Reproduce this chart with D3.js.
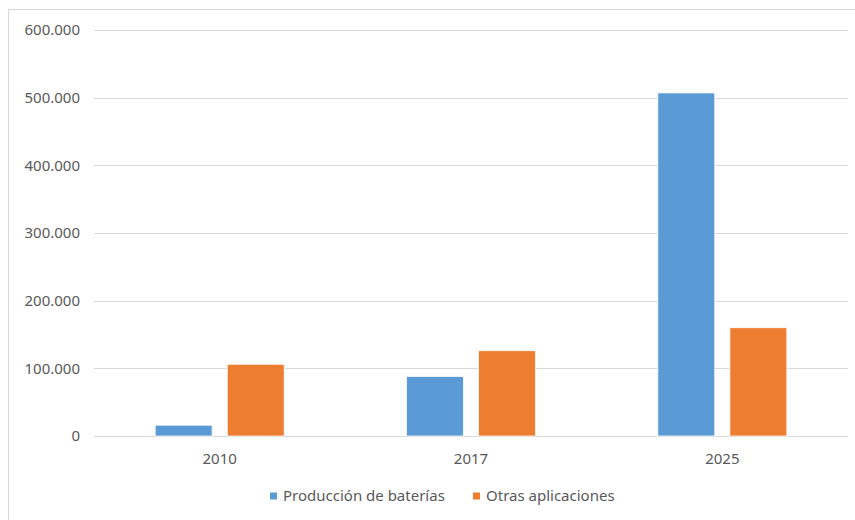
<!DOCTYPE html>
<html>
<head>
<meta charset="utf-8">
<script src="https://cdn.jsdelivr.net/npm/d3@7"></script>
<style>
  body { margin: 0; background: #fff; }
  svg text { font-family: "Noto Sans", "Open Sans", sans-serif; fill: #595959; }
</style>
</head>
<body>
<div class="chart"></div>
<script>
// data
var years = ["2010", "2017", "2025"];
var seriesNames = ["Producción de baterías", "Otras aplicaciones"];
var baterias = [16000, 88000, 507000];
var otras = [106000, 126000, 160000];
var yTicks = [0, 100000, 200000, 300000, 400000, 500000, 600000];

var colors = ["#5B9BD5", "#ED7D31"];

var width = 855, height = 520;
var margin = { top: 30, bottom: 84, left: 94, right: 7 };

var svg = d3.select(".chart")
  .append("svg")
  .attr("width", width)
  .attr("height", height);

// chart border
svg.append("rect")
  .attr("x", 8.5).attr("y", 9.5)
  .attr("width", width).attr("height", height)
  .attr("fill", "none")
  .attr("stroke", "#D9D9D9");

var x0 = d3.scaleBand()
  .domain(years)
  .range([margin.left, width - margin.right]);

var x1 = d3.scaleBand()
  .domain(seriesNames)
  .range([0, 129])
  .paddingInner(0.21);

var y = d3.scaleLinear()
  .domain([0, 600000])
  .range([height - margin.bottom, margin.top]);

var fmt = d => d3.format(",")(d).replace(/,/g, ".");

// gridlines
svg.append("g")
  .selectAll("line")
  .data(yTicks)
  .enter()
  .append("line")
  .attr("x1", margin.left)
  .attr("x2", width - margin.right)
  .attr("y1", d => Math.round(y(d)) + 0.5)
  .attr("y2", d => Math.round(y(d)) + 0.5)
  .attr("stroke", "#D9D9D9")
  .attr("stroke-width", 1);

// y labels
svg.append("g")
  .selectAll("text")
  .data(yTicks)
  .enter()
  .append("text")
  .attr("x", 80)
  .attr("y", d => y(d))
  .attr("dy", "0.35em")
  .attr("text-anchor", "end")
  .style("font-size", "15px")
  .text(d => fmt(d));

// bars
var rows = years.map((yr, i) => ({ year: yr, values: [baterias[i], otras[i]] }));

var groups = svg.append("g")
  .selectAll("g")
  .data(rows)
  .enter()
  .append("g")
  .attr("transform", d => "translate(" + (x0(d.year) + (x0.bandwidth() - 129) / 2) + ",0)");

groups.selectAll("rect")
  .data(d => d.values.map((v, j) => ({ name: seriesNames[j], value: v, j: j })))
  .enter()
  .append("rect")
  .attr("x", d => x1(d.name))
  .attr("y", d => y(d.value))
  .attr("width", x1.bandwidth())
  .attr("height", d => y(0) - y(d.value))
  .attr("fill", d => colors[d.j])
  .attr("stroke", "#fff")
  .attr("stroke-width", 0.75);

// x labels
svg.append("g")
  .selectAll("text")
  .data(years)
  .enter()
  .append("text")
  .attr("x", d => x0(d) + x0.bandwidth() / 2)
  .attr("y", 459)
  .attr("dy", "0.35em")
  .attr("text-anchor", "middle")
  .style("font-size", "15px")
  .text(d => d);

// legend
var legendX = [270, 473];
var legend = svg.append("g")
  .selectAll("g")
  .data(seriesNames)
  .enter()
  .append("g")
  .attr("transform", (d, i) => "translate(" + legendX[i] + ",496)");

legend.append("rect")
  .attr("x", 0).attr("y", -3.5)
  .attr("width", 7).attr("height", 7)
  .attr("fill", (d, i) => colors[i]);

legend.append("text")
  .attr("x", 13)
  .attr("y", 0)
  .attr("dy", "0.35em")
  .style("font-size", "15px")
  .text(d => d);
</script>
</body>
</html>
